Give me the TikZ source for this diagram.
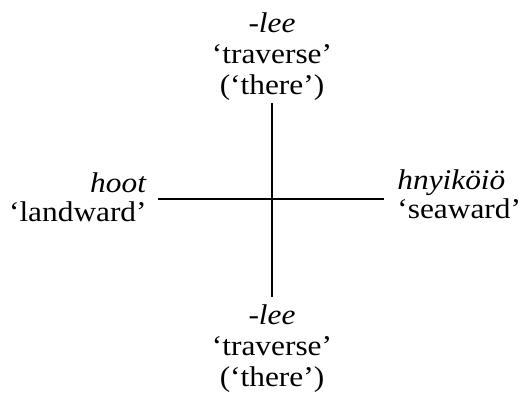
\documentclass[tikz,border=0pt]{standalone}
\usepackage{fontspec}
\setmainfont{Liberation Serif}[FakeStretch=1.1]
\usetikzlibrary{positioning}
\tikzset{
  gloss/.style={inner sep=0pt,font=\fontsize{14.25}{15.5}\selectfont},
  side/.style={inner sep=0pt,font=\fontsize{14.25}{14.5}\selectfont},
  axis/.style={line width=0.9pt}
}

\begin{document}
\begin{tikzpicture}[x=0.5pt,y=-0.5pt]
  \useasboundingbox (0,0) rectangle (518,396);

  % --- axis ends ---
  \coordinate (n) at (272,103);
  \coordinate (s) at (272,297);
  \coordinate (w) at (158,199);
  \coordinate (e) at (384,199);

  % --- labels ---
  \node[gloss,align=center,anchor=base] (up) at (272,94)
        {\textit{-lee}\\`traverse'\\(`there')};
  \node[gloss,align=center,anchor=base] (down) at (272,386)
        {\textit{-lee}\\`traverse'\\(`there')};
  \node[side,align=right,anchor=base east] (land) at (147,221)
        {\textit{hoot}\\`landward'};
  \node[side,align=left,anchor=base west] (sea) at (397,218)
        {\textit{hnyiköiö}\\`seaward'};

  % --- cross ---
  \draw[axis] (n) -- (s);
  \draw[axis] (w) -- (e);

\end{tikzpicture}
\end{document}
